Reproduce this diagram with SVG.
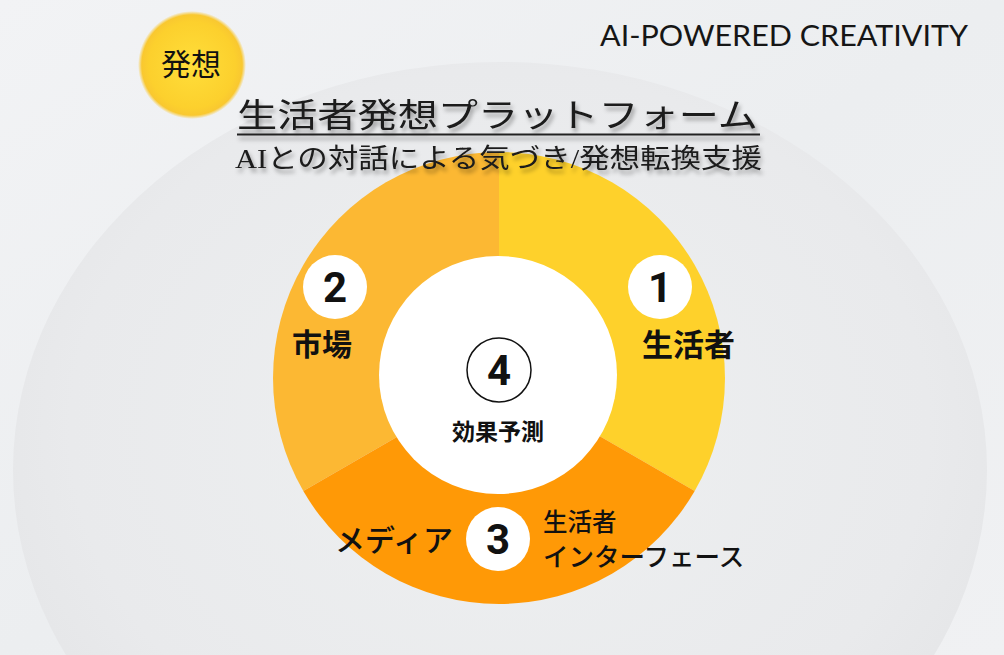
<svg xmlns="http://www.w3.org/2000/svg" width="1004" height="655" viewBox="0 0 1004 655">
  <defs>
    <linearGradient id="bg" x1="0" y1="0" x2="1" y2="1">
      <stop offset="0" stop-color="#f2f3f5"/>
      <stop offset="0.5" stop-color="#eceef0"/>
      <stop offset="1" stop-color="#f0f1f3"/>
    </linearGradient>
    <radialGradient id="halo" cx="0.5" cy="0.45" r="0.55">
      <stop offset="0" stop-color="#eef0f1"/>
      <stop offset="0.8" stop-color="#e9eaec"/>
      <stop offset="1" stop-color="#e5e6e8"/>
    </radialGradient>
    <radialGradient id="badge" cx="0.5" cy="0.5" r="0.5">
      <stop offset="0" stop-color="#ffde3a"/>
      <stop offset="0.8" stop-color="#fcd02d"/>
      <stop offset="0.93" stop-color="#f9c830"/>
      <stop offset="1" stop-color="#f9c830" stop-opacity="0"/>
    </radialGradient>
    <filter id="shadow" x="-5%" y="-30%" width="110%" height="170%">
      <feDropShadow dx="2" dy="4" stdDeviation="2" flood-color="#000" flood-opacity="0.35"/>
    </filter>
    <style>
      .jp { font-family: "Noto Sans CJK JP", "Noto Sans", sans-serif; fill: #111; }
      .lbl { font-weight: bold; }
      .ser { font-family: "Liberation Serif", "Noto Sans CJK JP", serif; fill: #1a1a1a; font-weight: normal; }
      .num { font-family: Roboto, "DejaVu Sans", sans-serif; font-weight: bold; font-size: 42px; fill: #111; text-anchor: middle; }
      .badge-num { fill: #fff; }
    </style>
  </defs>

  <!-- background -->
  <rect x="0" y="0" width="1004" height="655" fill="url(#bg)"/>
  <ellipse cx="500" cy="470" rx="487" ry="408" fill="url(#halo)"/>

  <!-- donut -->
  <g id="seg1-consumer">
    <path d="M499,378 L499,152 A226,226 0 0 1 694.7,491 Z" fill="#fed12b"/>
    <circle class="badge-num" cx="660" cy="287" r="32"/>
    <text class="num" x="660" y="302">1</text>
    <text class="jp lbl" x="642" y="356" font-size="31">生活者</text>
  </g>
  <g id="seg2-market">
    <path d="M499,378 L303.3,491 A226,226 0 0 1 499,152 Z" fill="#fcb833"/>
    <circle class="badge-num" cx="335" cy="287" r="32"/>
    <text class="num" x="335" y="302">2</text>
    <text class="jp lbl" x="292" y="355" font-size="30">市場</text>
  </g>
  <g id="seg3-media">
    <path d="M499,378 L694.7,491 A226,226 0 0 1 303.3,491 Z" fill="#ff9906"/>
    <circle class="badge-num" cx="498" cy="539" r="32"/>
    <text class="num" x="498" y="554">3</text>
    <text class="jp" x="335" y="551" font-size="30" font-weight="500">メディア</text>
    <text class="jp" x="543" y="531" font-size="24.5" font-weight="500">生活者</text>
    <text class="jp" x="543" y="566" font-size="25.5" font-weight="500">インターフェース</text>
  </g>
  <g id="center-forecast">
    <circle cx="498" cy="375" r="119" fill="#ffffff"/>
    <circle cx="499" cy="370" r="32" fill="#ffffff" stroke="#111" stroke-width="1.5"/>
    <text class="num" x="499" y="385">4</text>
    <text class="jp lbl" x="498" y="440" font-size="23" text-anchor="middle">効果予測</text>
  </g>

  <!-- header -->
  <g id="badge-hasso">
    <circle cx="192" cy="65" r="54" fill="url(#badge)"/>
    <text class="jp" x="191" y="75" font-size="30" text-anchor="middle">発想</text>
  </g>
  <g id="brand">
    <text x="600" y="46" font-family="Lato, 'Noto Sans', sans-serif" font-size="29" fill="#161616" textLength="368" lengthAdjust="spacingAndGlyphs">AI-POWERED CREATIVITY</text>
  </g>
  <g id="title" filter="url(#shadow)">
    <text class="ser" x="237" y="127" font-size="33" textLength="521" lengthAdjust="spacingAndGlyphs">生活者発想プラットフォーム</text>
    <line x1="237" y1="134.5" x2="760" y2="134.5" stroke="#222" stroke-width="2"/>
    <text class="ser" x="235" y="168" font-size="27" textLength="527" lengthAdjust="spacingAndGlyphs">AIとの対話による気づき/発想転換支援</text>
  </g>

  <g id="connectors"/>
</svg>
